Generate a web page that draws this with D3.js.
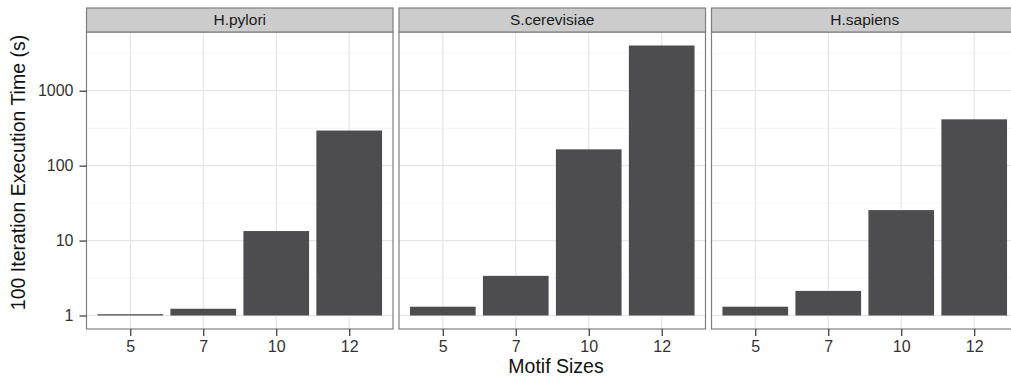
<!DOCTYPE html>
<html>
<head>
<meta charset="utf-8">
<script src="https://cdn.jsdelivr.net/npm/d3@7"></script>
<style>
  body { margin: 0; background: #fff; }
  svg { display: block; font-family: "Liberation Sans", Arial, Helvetica, sans-serif; }
</style>
</head>
<body>
<svg id="chart"></svg>
<script>
// facets, categories and values
const species = ['H.pylori', 'S.cerevisiae', 'H.sapiens']
const motifSizes = ['5', '7', '10', '12']
const hpylori = [1.04, 1.23, 13.4, 294]
const scerevisiae = [1.31, 3.38, 165, 4010]
const hsapiens = [1.31, 2.13, 25.5, 415]
const yTicks = [1, 10, 100, 1000]
const yMinorTicks = [3.16, 31.6, 316, 3162]

const values = [hpylori, scerevisiae, hsapiens]

// Geometry constants
const size = { width: 1011, height: 387 }
const panel = { left: 86.5, top: 32, bottom: 329, width: 306.5, gap: 6 }
const strip = { top: 8, height: 24 }
const tickLen = 7

const colors = {
  bar: '#4d4d4f',
  grid: '#e5e5e5',
  minor: '#f4f4f4',
  border: '#7f7f7f',
  strip: '#cccccc',
  tickText: '#333',
}

const svg = d3.select('#chart')
  .attr('width', size.width)
  .attr('height', size.height)

// Scales //

// ggplot style: bars rise from 1, log range expanded by 5% on each side
const hiLog = Math.log10(d3.max(values.flat()))
const pad = hiLog * 0.05
const y = d3.scaleLog()
  .domain([10 ** -pad, 10 ** (hiLog + pad)])
  .range([panel.bottom, panel.top])

const x = d3.scalePoint()
  .domain(motifSizes)
  .range([0, panel.width])
  .padding(0.6)
const barWidth = x.step() * 0.9

species.forEach((name, i) => {
  const left = panel.left + i * (panel.width + panel.gap)
  const g = svg.append('g').attr('transform', 'translate(' + left + ',0)')

  // grid
  g.append('g')
    .selectAll('line')
    .data(yMinorTicks)
    .join('line')
      .attr('x1', 0).attr('x2', panel.width)
      .attr('y1', d => y(d)).attr('y2', d => y(d))
      .attr('stroke', colors.minor)
      .attr('stroke-width', 1)
  g.append('g')
    .selectAll('line')
    .data(yTicks)
    .join('line')
      .attr('x1', 0).attr('x2', panel.width)
      .attr('y1', d => y(d)).attr('y2', d => y(d))
      .attr('stroke', colors.grid)
      .attr('stroke-width', 1.2)
  g.append('g')
    .selectAll('line')
    .data(motifSizes)
    .join('line')
      .attr('x1', d => x(d)).attr('x2', d => x(d))
      .attr('y1', panel.top).attr('y2', panel.bottom)
      .attr('stroke', colors.grid)
      .attr('stroke-width', 1.2)

  // bars
  g.append('g')
    .selectAll('rect')
    .data(values[i])
    .join('rect')
      .attr('x', (_, j) => x(motifSizes[j]) - barWidth / 2)
      .attr('width', barWidth)
      .attr('y', d => y(d))
      .attr('height', d => y(1) - y(d))
      .attr('fill', colors.bar)

  // panel border
  g.append('rect')
    .attr('x', 0).attr('y', panel.top)
    .attr('width', panel.width).attr('height', panel.bottom - panel.top)
    .attr('fill', 'none')
    .attr('stroke', colors.border)
    .attr('stroke-width', 1.2)

  // strip
  g.append('rect')
    .attr('x', 0).attr('y', strip.top)
    .attr('width', panel.width).attr('height', strip.height)
    .attr('fill', colors.strip)
    .attr('stroke', colors.border)
    .attr('stroke-width', 1.2)
  g.append('text')
    .attr('x', panel.width / 2)
    .attr('y', strip.top + strip.height / 2)
    .attr('dy', '0.35em')
    .attr('text-anchor', 'middle')
    .attr('font-size', 15.5)
    .attr('fill', '#1a1a1a')
    .text(name)

  // x axis
  g.append('g')
    .attr('transform', 'translate(0,' + panel.bottom + ')')
    .call(d3.axisBottom(x).tickSize(tickLen).tickPadding(5))
    .call(a => a.select('.domain').remove())
    .call(a => a.selectAll('.tick line').attr('stroke', '#333').attr('stroke-width', 1.2))
    .call(a => a.selectAll('.tick text')
      .attr('font-size', 16)
      .attr('font-family', null)
      .attr('fill', colors.tickText))

  // y axis on first panel only
  if (i === 0) {
    g.append('g')
      .call(d3.axisLeft(y).tickValues(yTicks).tickFormat(d3.format('d')).tickSize(tickLen).tickPadding(6))
      .call(a => a.select('.domain').remove())
      .call(a => a.selectAll('.tick line').attr('stroke', '#333').attr('stroke-width', 1.2))
      .call(a => a.selectAll('.tick text')
        .attr('font-size', 16)
        .attr('font-family', null)
        .attr('fill', colors.tickText))
  }
})

// axis titles
svg.append('text')
  .attr('x', 556)
  .attr('y', 372.5)
  .attr('text-anchor', 'middle')
  .attr('font-size', 19.5)
  .attr('fill', '#111')
  .text('Motif Sizes')

svg.append('text')
  .attr('transform', 'translate(25,172.5) rotate(-90)')
  .attr('text-anchor', 'middle')
  .attr('font-size', 19.5)
  .attr('fill', '#111')
  .text('100 Iteration Execution Time (s)')
</script>
</body>
</html>
